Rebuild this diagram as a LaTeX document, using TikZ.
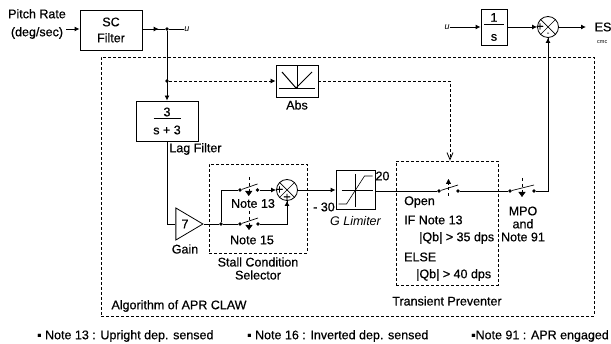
\documentclass[tikz,border=0pt]{standalone}
\usepackage{fontspec}
\setmainfont{Liberation Sans}[BoldFont=Liberation Sans,BoldFeatures={FakeBold=0.6}]
\usepackage{tikz}
\usetikzlibrary{positioning,arrows.meta,shapes.geometric,calc,decorations.markings}
\tikzset{
blockbox/.style={
draw,
line width=0.9pt,
inner sep=0pt,
align=center,
font=\fontsize{12.5}{14}\selectfont\bfseries
},
lbl/.style={
inner sep=0pt,
align=center,
font=\fontsize{12.5}{13}\selectfont\bfseries
},
sumnode/.style={
draw,
circle,
line width=0.8pt,
minimum size=21pt,
inner sep=0pt
},
dotnode/.style={
circle,
fill=black,
minimum size=3.6pt,
inner sep=0pt
},
dashbox/.style={
draw,
line width=0.8pt,
dash pattern=on 3pt off 2pt
},
dashline/.style={
line width=0.8pt,
dash pattern=on 3pt off 2pt
},
wire/.style={
line width=0.9pt
},
arrow/.style={
-{Latex[length=5pt,width=5pt]},
line width=0.9pt
},
midarrow/.style={
line width=0.9pt,
postaction=decorate,
decoration={markings,mark=at position #1 with {\arrow{Latex[length=5pt,width=5pt]}}}
}
}
\begin{document}
\begin{tikzpicture}[on grid]
\useasboundingbox (0,0) rectangle (611pt,-344pt);
\node[blockbox,minimum width=62pt,minimum height=40pt](sc) at (111pt,-30pt){SC\\[2pt]Filter};
\node[lbl,above left=6pt and 74pt of sc](pitch){Pitch Rate\\[5pt](deg/sec)};
\node[dotnode,above right=1pt and 56pt of sc](tap){};
\node[lbl,right=20pt of tap,font=\fontsize{9}{10}\selectfont\itshape](uout){u};
\node[dotnode,below=52pt of tap](abstap){};
\node[blockbox,below=40pt of abstap,minimum width=62pt,minimum height=40pt](lag){3\\[-11.5pt]\rule{27pt}{0.7pt}\\[1.5pt]s + 3};
\node[lbl,below right=28pt and 28.5pt of lag](lagname){Lag Filter};
\node[blockbox,right=130pt of abstap,minimum width=42pt,minimum height=32pt](abs){};
\node[lbl,below=24pt of abs](absname){Abs};
\node[draw,line width=0.8pt,isosceles triangle,isosceles triangle stretches,minimum width=32pt,minimum height=27pt,inner sep=0pt,below right=103pt and 18pt of lag](gain){};
\node[lbl,right=0pt of gain]{7};
\node[lbl,below=25pt of gain](gainname){Gain};
\node[dotnode,right=36pt of gain](branch){};

% stall condition selector
\node[dotnode,above right=34pt and 19pt of branch](swa){};
\node[dotnode,right=17.5pt of swa](swb){};
\node[dotnode,right=19pt of branch](swc){};
\node[dotnode,right=18pt of swc](swd){};
\node[sumnode,right=29.5pt of swb](sumcond){};
\node[lbl,left=7.5pt of sumcond]{+};
\node[lbl,below=7.5pt of sumcond]{+};
\node[lbl,below right=13.5pt and 13pt of swa](noteup){Note 13};
\node[lbl,below right=16pt and 12pt of swc](notedn){Note 15};
\node[dashbox,below right=18.5pt and 18pt of swa,minimum width=98pt,minimum height=89pt](stall){};
\node[lbl,below=60pt of stall](stallname){Stall Condition\\Selector};

% limiter and transient preventer
\node[blockbox,right=68.5pt of sumcond,minimum width=39pt,minimum height=39pt](lim){};
\node[lbl,above right=14pt and 27pt of lim](limhi){20};
\node[lbl,below left=17pt and 31.5pt of lim](limlo){- 30};
\node[lbl,below=31pt of lim,font=\fontsize{12.5}{13}\selectfont\bfseries\itshape](limname){G Limiter};
\node[dotnode,below right=1pt and 83.5pt of lim](swe){};
\node[dotnode,right=19pt of swe](swf){};
\node[dotnode,right=52pt of swf](swg){};
\node[dotnode,right=24pt of swg](swh){};
\node[dashbox,below right=32pt and 8pt of swe,minimum width=102pt,minimum height=124pt](trans){};
\node[lbl,below=78pt of trans](transname){Transient Preventer};
\node[lbl,above left=21pt and 43pt of trans,anchor=west](topen){Open};
\node[lbl,below=18pt of topen.west,anchor=west](tif){IF Note 13};
\node[lbl,below right=18pt and 15pt of tif.west,anchor=west](tqa){|Qb| > 35 dps};
\node[lbl,below=19pt of tif.west,yshift=-18pt,anchor=west](telse){ELSE};
\node[lbl,below right=18pt and 12pt of telse.west,anchor=west](tqb){|Qb| > 40 dps};
\node[lbl,below right=33pt and 13pt of swg](mpo){MPO\\and\\Note 91};

% output part
\node[blockbox,above right=3pt and 383pt of sc,minimum width=26pt,minimum height=36pt](integ){1\\[-10.5pt]\rule{20pt}{1.2pt}\\[1.5pt]s};
\node[lbl,left=47pt of integ,font=\fontsize{9}{10}\selectfont\itshape](uin){u};
\node[sumnode,right=54pt of integ](sumout){};
\node[lbl,left=8pt of sumout]{+};
\node[lbl,below=7pt of sumout,font=\fontsize{8}{9}\selectfont\bfseries]{-};
\coordinate[right=38pt of sumout](esend);
\node[lbl,right=46.5pt of sumout,anchor=west](es){ES};
\node[lbl,below right=15pt and 49pt of sumout,anchor=west,font=\fontsize{5.5}{6}\selectfont](cmd){cmc};

\node[dashbox,below right=156.5pt and 236.5pt of sc,minimum width=493pt,minimum height=259pt](claw){};
\node[lbl,below left=119.5pt and 168.5pt of claw](clawname){Algorithm of APR CLAW};
\node[lbl,below left=149.5pt and 310.5pt of claw,anchor=west](notea){▪ Note 13 : Upright dep. sensed};
\node[lbl,right=210pt of notea.west,anchor=west](noteb){▪ Note 16  : Inverted dep. sensed};
\node[lbl,right=224pt of noteb.west,anchor=west](notec){▪Note 91 : APR engaged};

\draw[arrow](pitch.east|-tap)--(sc.west|-tap);
\draw[midarrow=0.72](sc.east|-tap)--(tap);
\draw[wire](tap)--(uout.west);
\draw[arrow](tap)--(lag.north);
\draw[dashline,-{Latex[length=5pt,width=5pt]}](abstap)--(abs.west);
\draw[dashline,-{Straight Barb[length=7pt,width=6pt]}](abs.east)-|($(trans.north)+(3pt,0)$);
\draw[wire](lag.south)|-(gain.west);
\draw[wire](gain.east)--(branch);
\draw[wire](branch)|-(swa);
\draw[wire](branch)--(swc);
\draw[arrow](swb)--(sumcond.west|-swb);
\draw[wire](swd)-|(sumcond.south);
\draw[arrow](swd-|sumcond.south)--(sumcond.south);
\draw[arrow](sumcond.east)--(lim.west);
\draw[wire](lim.east)--(swe-|lim.east)--(swe);
\draw[wire](swf)--(swg);
\draw[wire](swh)-|(sumout.south);
\draw[arrow](swh-|sumout.south)--(sumout.south);
\draw[arrow](uin.east)--(integ.west);
\draw[arrow](integ.east)--(sumout.west);
\draw[arrow](sumout.east)--(esend);

% switch blades and actuators
\foreach \a/\b in {swa/swb,swc/swd,swe/swf,swg/swh}{
\draw[line width=0.7pt](\a)--($(\b)+(0,6pt)$);
}
\foreach \a/\b in {swa/swb,swc/swd,swg/swh}{
\draw[line width=0.4pt,dashed,-{Triangle[length=5pt,width=7pt]}]($(\a)!0.5!(\b)+(0,13pt)$)--($(\a)!0.5!(\b)+(0,-6pt)$);
}
\draw[line width=0.4pt,dashed,-{Triangle[length=5pt,width=5pt]}]($(swe)!0.5!(swf)+(0,-5pt)$)--($(swe)!0.5!(swf)+(0,12pt)$);

% crosses and block inserts
\foreach \s in {sumcond,sumout}{
\draw[line width=0.7pt](\s.north west)--(\s.south east);
\draw[line width=0.7pt](\s.north east)--(\s.south west);
}
\draw[line width=0.5pt,shift={(abs.center)}](0,15pt)--(0,-7pt);
\draw[line width=0.7pt,shift={(abs.center)}](-18pt,-7pt)--(18pt,-7pt);
\draw[line width=1pt,shift={(abs.center)}](-15pt,9pt)--(-1pt,-7pt)--(15pt,9pt);
\draw[line width=0.5pt,shift={(lim.center)}](-14pt,0)--(17pt,0);
\draw[line width=0.5pt,shift={(lim.center)}](0,16pt)--(0,-17pt);
\draw[line width=0.6pt,shift={(lim.center)}](-17pt,-14pt)--(-9pt,-14pt)--(9pt,14pt)--(17pt,14pt);
\end{tikzpicture}
\end{document}
